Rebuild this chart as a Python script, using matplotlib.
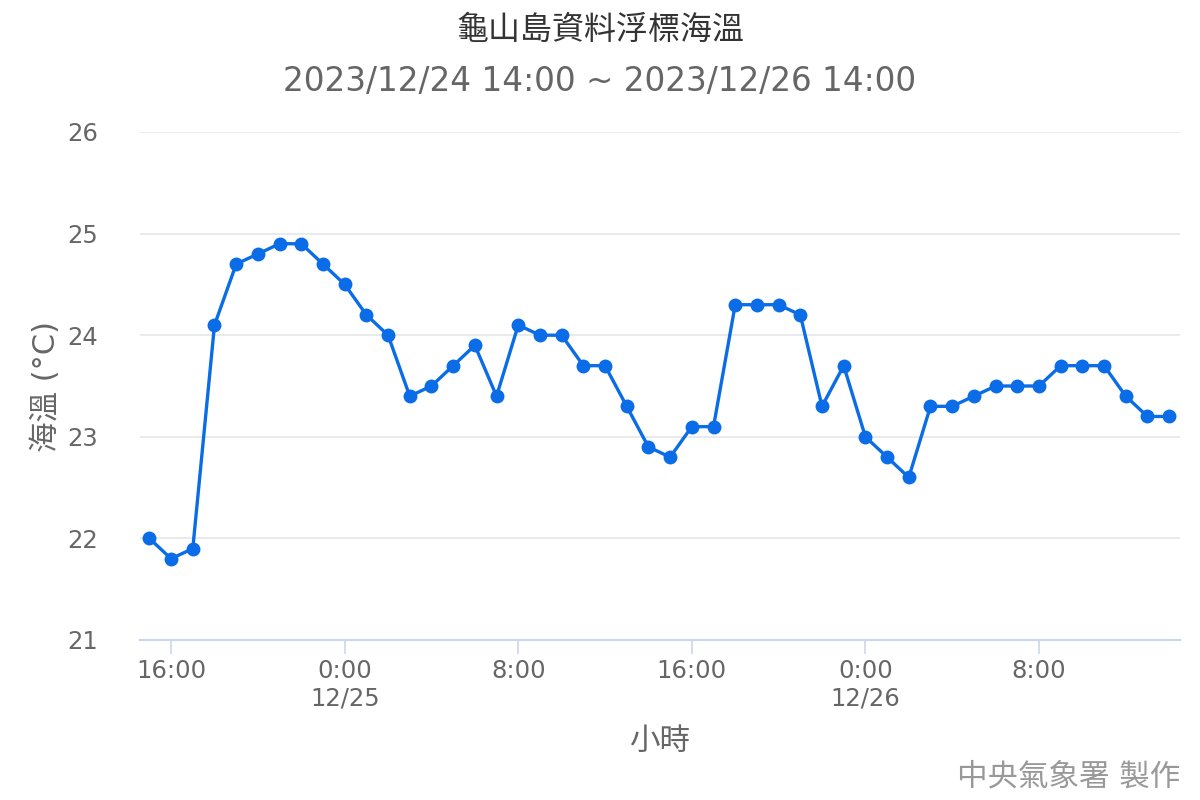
import matplotlib
matplotlib.use('Agg')
import matplotlib.pyplot as plt
import matplotlib.dates as mdates
import pandas as pd

plt.rcParams['font.family'] = ['DejaVu Sans', 'Noto Sans CJK TC']

# hourly sea temperature, 2023/12/24 15:00 .. 2023/12/26 14:00
start = '2023-12-24 15:00'
temps = [
    22.0, 21.8, 21.9, 24.1, 24.7, 24.8, 24.9, 24.9, 24.7, 24.5,
    24.2, 24.0, 23.4, 23.5, 23.7, 23.9, 23.4, 24.1, 24.0, 24.0,
    23.7, 23.7, 23.3, 22.9, 22.8, 23.1, 23.1, 24.3, 24.3, 24.3,
    24.2, 23.3, 23.7, 23.0, 22.8, 22.6, 23.3, 23.3, 23.4, 23.5,
    23.5, 23.5, 23.7, 23.7, 23.7, 23.4, 23.2, 23.2,
]
y_ticks = [21, 22, 23, 24, 25, 26]
title = '龜山島資料浮標海溫'
subtitle = '2023/12/24 14:00 ~ 2023/12/26 14:00'

times = pd.date_range(start, periods=len(temps), freq='h')
tick_times = pd.date_range('2023-12-24 16:00', periods=6, freq='8h')

fig = plt.figure(figsize=(12, 8), dpi=100)
ax = fig.add_axes([140 / 1200, 0.2, 1040 / 1200, 508 / 800])

ax.plot(times, temps, color='#0a6ce6', lw=2.4, marker='o', ms=10,
        markeredgewidth=0, zorder=3, clip_on=False)

pad = pd.Timedelta(minutes=26)
ax.set_xlim(times[0] - pad, times[-1] + pd.Timedelta(minutes=30))
ax.set_ylim(21, 26)
ax.set_yticks(y_ticks)
ax.grid(axis='y', color='#e6e6e6', lw=1.2)
ax.set_axisbelow(True)


def fmt(x, pos):
    t = mdates.num2date(x)
    s = '%d:00' % t.hour
    if t.hour == 0:
        s += '\n%d/%d' % (t.month, t.day)
    return s


ax.set_xticks(tick_times)
ax.xaxis.set_major_formatter(plt.FuncFormatter(fmt))
ax.tick_params(axis='x', colors='#ccd6eb', length=10, width=1.2, labelcolor='#666666',
               labelsize=17.5, pad=4)
ax.tick_params(axis='y', length=0, labelcolor='#666666', labelsize=17.5, pad=30)
for lab in ax.get_xticklabels():
    lab.set_linespacing(1.15)

for side in ['top', 'right', 'left']:
    ax.spines[side].set_visible(False)
ax.spines['bottom'].set_color('#ccd6eb')
ax.spines['bottom'].set_linewidth(1.5)

ax.set_ylabel('海溫 (°C)', fontsize=22, color='#666666', labelpad=5)
ax.set_xlabel('小時', fontsize=22, color='#666666', labelpad=12)

fig.text(600 / 1200, 1 - 30 / 800, title, ha='center', va='center', fontsize=23,
         color='#333333', fontweight='light')
fig.text(600 / 1200, 1 - 82 / 800, subtitle, ha='center', va='center', fontsize=23.5, color='#666666')
fig.text(1180 / 1200, 1 - 777 / 800, '中央氣象署 製作', ha='right', va='center', fontsize=22,
         color='#999999', fontweight='light')

fig.savefig('out.png', dpi=100)
